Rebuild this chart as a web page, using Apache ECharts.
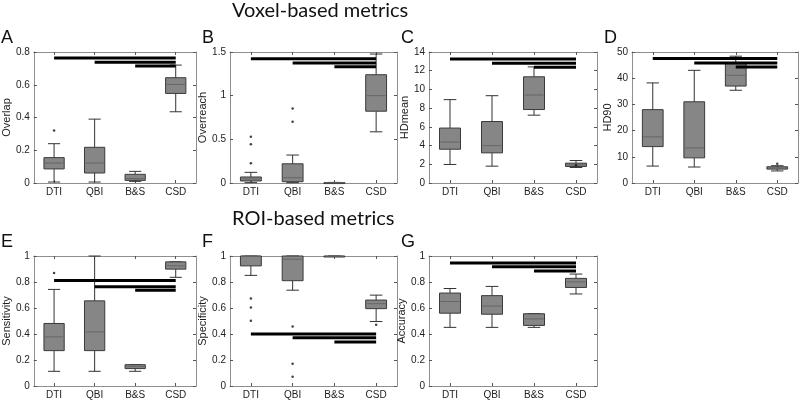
<!DOCTYPE html>
<html>
<head>
<meta charset="utf-8">
<script src="https://cdn.jsdelivr.net/npm/echarts@6/dist/echarts.min.js"></script>
<style>html,body{margin:0;padding:0;background:#fff}#c{width:800px;height:400px}</style>
</head>
<body>
<div id="c"></div>
<script>
const categories = ['DTI', 'QBI', 'B&S', 'CSD'];

// Box statistics per category: [lower whisker, Q1, median, Q3, upper whisker]
const overlapBoxes = [[0.006, 0.086, 0.122, 0.155, 0.24], [0.006, 0.061, 0.122, 0.218, 0.39], [0.01, 0.016, 0.027, 0.053, 0.071], [0.435, 0.547, 0.602, 0.643, 0.72]];
const overlapOutliers = [[0, 0.32]];
const overlapSig = [[0, 3, 0.764], [1, 3, 0.738], [2, 3, 0.714]];

const overreachBoxes = [[0.004, 0.023, 0.046, 0.069, 0.122], [0.004, 0.015, 0.061, 0.22, 0.32], [0.001, 0.002, 0.003, 0.005, 0.007], [0.586, 0.822, 1.0, 1.24, 1.477]];
const overreachOutliers = [[0, 0.53], [0, 0.445], [0, 0.225], [1, 0.853], [1, 0.70]];
const overreachSig = [[0, 3, 1.424], [1, 3, 1.374], [2, 3, 1.332]];

const hdmeanBoxes = [[1.98, 3.61, 4.38, 5.87, 8.91], [1.80, 3.22, 3.99, 6.57, 9.33], [7.25, 7.85, 9.40, 11.35, 12.41], [1.66, 1.77, 1.94, 2.12, 2.40]];
const hdmeanOutliers = [[3, 1.9]];
const hdmeanSig = [[0, 3, 13.26], [1, 3, 12.8], [2, 3, 12.37]];

const hd90Boxes = [[6.46, 13.9, 17.6, 28.0, 38.2], [6.1, 9.6, 13.4, 31.0, 43.0], [35.4, 37.0, 41.1, 45.6, 48.4], [4.6, 5.3, 5.7, 6.2, 6.6]];
const hd90Outliers = [[3, 7.3]];
const hd90Sig = [[0, 3, 47.5], [1, 3, 45.8], [2, 3, 44.3]];

const sensitivityBoxes = [[0.113, 0.272, 0.378, 0.481, 0.743], [0.113, 0.272, 0.416, 0.655, 1.0], [0.113, 0.134, 0.149, 0.164, 0.164], [0.836, 0.899, 0.925, 0.955, 0.955]];
const sensitivityOutliers = [[0, 0.869]];
const sensitivitySig = [[0, 3, 0.811], [1, 3, 0.763], [2, 3, 0.736]];

const specificityBoxes = [[0.851, 0.924, 1.0, 1.0, 1.0], [0.737, 0.81, 0.975, 1.0, 1.0], [0.997, 0.998, 0.999, 1.0, 1.0], [0.496, 0.595, 0.633, 0.661, 0.699]];
const specificityOutliers = [[0, 0.673], [0, 0.603], [0, 0.501], [1, 0.458], [1, 0.172], [1, 0.071], [3, 0.471]];
const specificitySig = [[0, 3, 0.40], [1, 3, 0.372], [2, 3, 0.339]];

const accuracyBoxes = [[0.451, 0.56, 0.65, 0.715, 0.75], [0.451, 0.552, 0.615, 0.695, 0.766], [0.451, 0.466, 0.516, 0.556, 0.556], [0.708, 0.758, 0.801, 0.828, 0.861]];
const accuracyOutliers = [];
const accuracySig = [[0, 3, 0.947], [1, 3, 0.917], [2, 3, 0.884]];

const sectionTitles = ['Voxel-based metrics', 'ROI-based metrics'];

const panels = [
  {letter: 'A', name: 'Overlap', boxes: overlapBoxes, out: overlapOutliers, sig: overlapSig, max: 0.8, step: 0.2, g: [29, 52, 167, 131], gap: 17},
  {letter: 'B', name: 'Overreach', boxes: overreachBoxes, out: overreachOutliers, sig: overreachSig, max: 1.5, step: 0.5, g: [230, 52, 167, 131], gap: 17},
  {letter: 'C', name: 'HDmean', boxes: hdmeanBoxes, out: hdmeanOutliers, sig: hdmeanSig, max: 14, step: 2, g: [429, 52, 168, 131], gap: 12},
  {letter: 'D', name: 'HD90', boxes: hd90Boxes, out: hd90Outliers, sig: hd90Sig, max: 50, step: 10, g: [632, 52, 166, 131], gap: 15},
  {letter: 'E', name: 'Sensitivity', boxes: sensitivityBoxes, out: sensitivityOutliers, sig: sensitivitySig, max: 1, step: 0.2, g: [29, 256, 167, 132], gap: 17},
  {letter: 'F', name: 'Specificity', boxes: specificityBoxes, out: specificityOutliers, sig: specificitySig, max: 1, step: 0.2, g: [230, 256, 167, 132], gap: 17},
  {letter: 'G', name: 'Accuracy', boxes: accuracyBoxes, out: accuracyOutliers, sig: accuracySig, max: 1, step: 0.2, g: [429, 256, 168, 132], gap: 14}
];

const FONT = "'Liberation Sans', Arial, Helvetica, sans-serif";
const FRAME = '#8f8f8f';
const TICK = '#555';

const grid = [], xAxis = [], yAxis = [], series = [], graphic = [];

function boxRender(params, api) {
  const i = api.value(0);
  const lo = api.coord([i, api.value(1)]);
  const q1 = api.coord([i, api.value(2)]);
  const md = api.coord([i, api.value(3)]);
  const q3 = api.coord([i, api.value(4)]);
  const hi = api.coord([i, api.value(5)]);
  const bw = api.size([1, 0])[0];
  const half = bw * 0.25, cap = bw * 0.15;
  const x = lo[0];
  const ws = {stroke: '#333', lineWidth: 1};
  return {type: 'group', children: [
    {type: 'line', shape: {x1: x, y1: hi[1], x2: x, y2: q3[1]}, style: ws},
    {type: 'line', shape: {x1: x, y1: lo[1], x2: x, y2: q1[1]}, style: ws},
    {type: 'line', shape: {x1: x - cap, y1: hi[1], x2: x + cap, y2: hi[1]}, style: ws},
    {type: 'line', shape: {x1: x - cap, y1: lo[1], x2: x + cap, y2: lo[1]}, style: ws},
    {type: 'rect', shape: {x: x - half, y: q3[1], width: 2 * half, height: Math.max(q1[1] - q3[1], 1)}, style: {fill: '#868686', stroke: '#3a3a3a', lineWidth: 1}},
    {type: 'line', shape: {x1: x - half + 1, y1: md[1], x2: x + half - 1, y2: md[1]}, style: {stroke: '#666', lineWidth: 1}}
  ]};
}

function sigRender(params, api) {
  const a = api.coord([api.value(0), api.value(2)]);
  const b = api.coord([api.value(1), api.value(2)]);
  return {type: 'line', shape: {x1: a[0], y1: a[1], x2: b[0], y2: b[1]}, style: {stroke: '#000', lineWidth: 3}};
}

panels.forEach((p, k) => {
  grid.push({left: p.g[0], top: p.g[1], width: p.g[2], height: p.g[3], containLabel: false});
  xAxis.push({
    type: 'category', gridIndex: k, data: categories, position: 'bottom',
    axisLine: {show: true, onZero: false, lineStyle: {color: FRAME, width: 1}},
    axisTick: {show: true, inside: true, alignWithLabel: true, length: 3, lineStyle: {color: TICK}},
    axisLabel: {color: '#222', fontSize: 10, fontFamily: FONT, margin: 4, interval: 0},
    splitLine: {show: false}
  });
  xAxis.push({
    type: 'category', gridIndex: k, data: categories, position: 'top',
    axisLine: {show: true, onZero: false, lineStyle: {color: FRAME, width: 1}},
    axisTick: {show: true, inside: true, alignWithLabel: true, length: 3, lineStyle: {color: TICK}},
    axisLabel: {show: false}, splitLine: {show: false}
  });
  yAxis.push({
    type: 'value', gridIndex: k, min: 0, max: p.max, interval: p.step, position: 'left',
    name: p.name, nameLocation: 'middle', nameGap: p.gap,
    nameTextStyle: {color: '#222', fontSize: 11, fontFamily: FONT},
    axisLine: {show: true, onZero: false, lineStyle: {color: FRAME, width: 1}},
    axisTick: {show: true, inside: true, length: 3, lineStyle: {color: TICK}},
    axisLabel: {color: '#222', fontSize: 10, fontFamily: FONT, margin: 4},
    splitLine: {show: false}
  });
  yAxis.push({
    type: 'value', gridIndex: k, min: 0, max: p.max, interval: p.step, position: 'right',
    axisLine: {show: true, onZero: false, lineStyle: {color: FRAME, width: 1}},
    axisTick: {show: true, inside: true, length: 3, lineStyle: {color: TICK}},
    axisLabel: {show: false}, splitLine: {show: false}
  });
  series.push({
    type: 'custom', xAxisIndex: 2 * k, yAxisIndex: 2 * k,
    data: p.boxes.map((b, i) => [i].concat(b)),
    encode: {x: 0, y: [1, 2, 3, 4, 5]},
    renderItem: boxRender, clip: false, z: 2
  });
  series.push({
    type: 'scatter', xAxisIndex: 2 * k, yAxisIndex: 2 * k,
    data: p.out, symbol: 'circle', symbolSize: 2.5,
    itemStyle: {color: '#111'}, z: 3, silent: true
  });
  series.push({
    type: 'custom', xAxisIndex: 2 * k, yAxisIndex: 2 * k,
    data: p.sig, encode: {x: [0, 1], y: 2},
    renderItem: sigRender, clip: false, z: 4
  });
  const row2 = k >= 4;
  graphic.push({
    type: 'text', left: p.g[0] - 28, top: row2 ? 233 : 29,
    style: {text: p.letter, font: '18px ' + FONT, fill: '#111'}
  });
});

graphic.push({type: 'text', left: 232, top: 1, style: {text: sectionTitles[0], font: '20px Lato, Carlito, Calibri, sans-serif', fill: '#111'}});
graphic.push({type: 'text', left: 232, top: 209, style: {text: sectionTitles[1], font: '20px Lato, Carlito, Calibri, sans-serif', fill: '#111'}});

const chart = echarts.init(document.getElementById('c'), null, {renderer: 'canvas'});
chart.setOption({
  animation: false,
  backgroundColor: '#fff',
  grid, xAxis, yAxis, series, graphic
});
</script>
</body>
</html>
